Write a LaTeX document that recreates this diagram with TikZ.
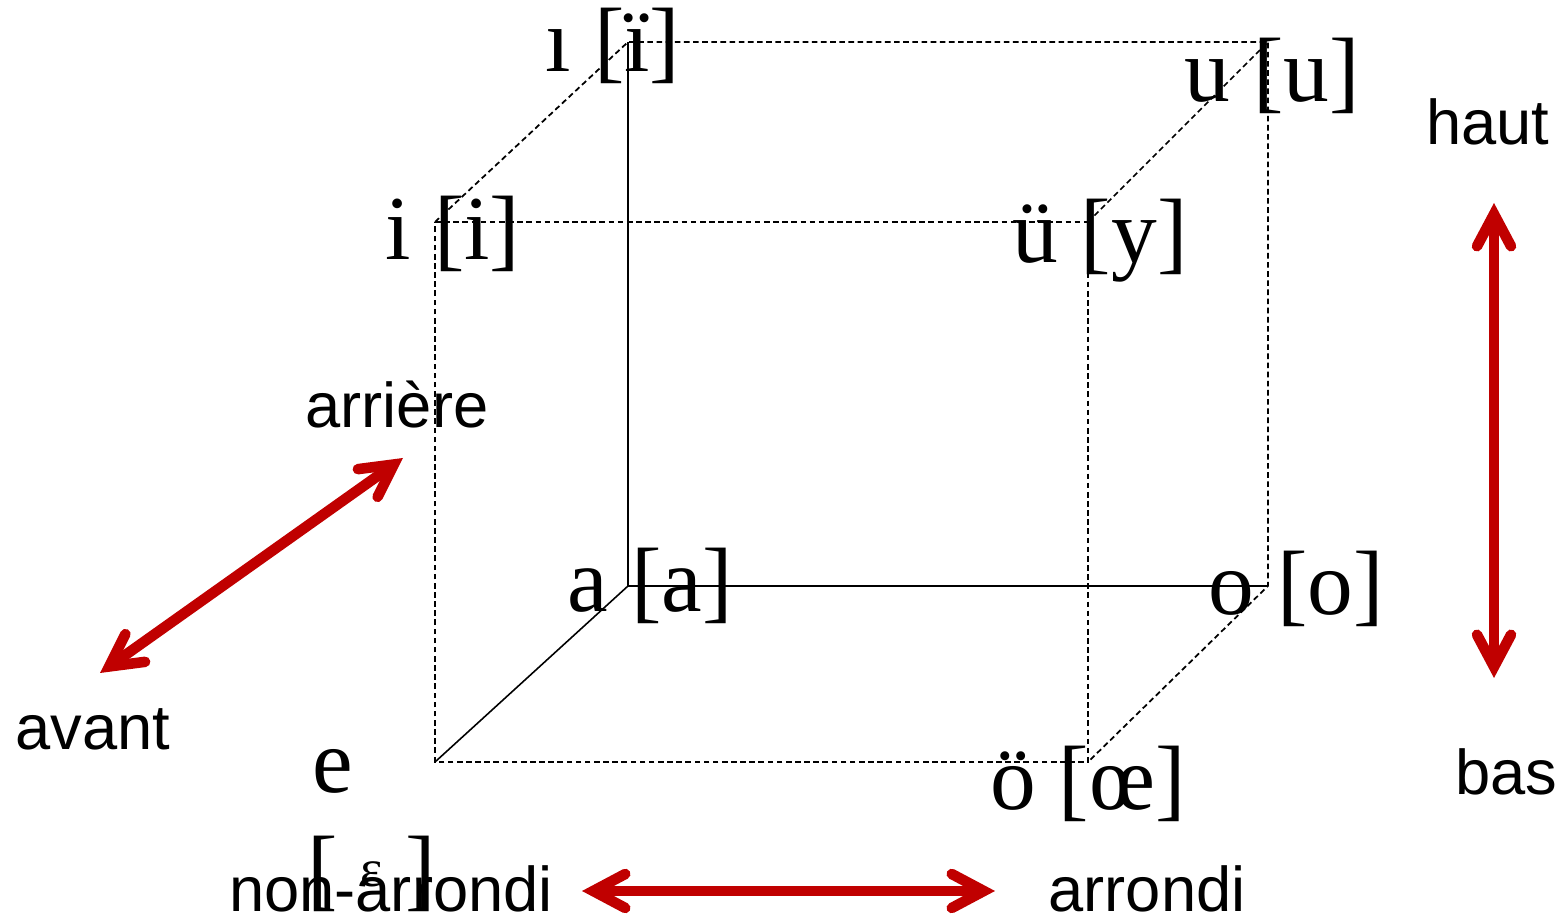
\documentclass[tikz,border=0pt]{standalone}
\usepackage{fontspec}
\setmainfont{Liberation Serif}
\newfontfamily\labelfont{Liberation Sans}
\usetikzlibrary{arrows.meta}
\definecolor{arrowred}{HTML}{C00000}

\tikzset{
    vowel/.style={font=\fontsize{26}{30}\selectfont, anchor=base, inner sep=0pt},
    axislabel/.style={font=\labelfont\fontsize{18}{21}\selectfont, anchor=base, inner sep=0pt},
    hidden/.style={line width=0.5pt, dash pattern=on 1.6pt off 1pt},
    edge/.style={line width=0.45pt},
    barb/.tip={Straight Barb[length=3.2mm, width=3.4mm, line cap=round, line join=miter]},
    axisarrow/.style={arrowred, line width=3pt, barb-barb},
}

\begin{document}
\begin{tikzpicture}
    \useasboundingbox (0,0) rectangle (15.61,9.18);

    % Sommets du cube
    \coordinate (ftl) at (4.35,6.96);
    \coordinate (ftr) at (10.88,6.96);
    \coordinate (fbl) at (4.35,1.56);
    \coordinate (fbr) at (10.88,1.56);
    \coordinate (btl) at (6.28,8.76);
    \coordinate (btr) at (12.68,8.76);
    \coordinate (bbl) at (6.28,3.32);
    \coordinate (bbr) at (12.68,3.32);

    % Arêtes pleines
    \draw[edge] (btl) -- (bbl) -- (bbr);
    \draw[edge] (bbl) -- (fbl);

    % Arêtes cachées
    \draw[hidden] (ftl) -- (ftr) -- (fbr) -- (fbl) -- cycle;
    \draw[hidden] (ftl) -- (btl) -- (btr) -- (bbr) -- (fbr);
    \draw[hidden] (ftr) -- (btr);

    % Voyelles
    \node[vowel] (vi2) at (6.13,8.46) {ı [ï]};
    \node[vowel] (vu) at (12.72,8.16) {u [u]};
    \node[vowel] (vi) at (4.53,6.58) {i [i]};
    \node[vowel] (vy) at (11.00,6.55) {ü [y]};
    \node[vowel] (va) at (6.50,3.06) {a [a]};
    \node[vowel] (vo) at (12.96,3.03) {o [o]};
    \node[vowel] (voe) at (10.88,1.08) {ö [œ]};
    \node[vowel] (ve) at (3.33,1.25) {e};
    \node[vowel] (veps) at (3.72,0.18)
        {[ \raisebox{0.13cm}{\fontsize{15}{15}\selectfont ɛ} ]};

    % Étiquettes des axes
    \node[axislabel] (haut) at (14.88,7.73) {haut};
    \node[axislabel] (bas) at (15.06,1.23) {bas};
    \node[axislabel] (arriere) at (3.97,4.90) {arrière};
    \node[axislabel] (avant) at (0.93,1.68) {avant};
    \node[axislabel] (nonarr) at (3.91,0.06) {non-arrondi};
    \node[axislabel] (arr) at (11.47,0.06) {arrondi};

    % Flèches
    \coordinate (hauttip) at (14.94,7.15);
    \coordinate (bastip) at (14.94,2.40);
    \coordinate (arrieretip) at (4.03,4.60);
    \coordinate (avanttip) at (1.00,2.45);
    \coordinate (nonarrtip) at (5.82,0.27);
    \coordinate (arrtip) at (9.95,0.27);
    \draw[axisarrow] (bastip) -- (hauttip);
    \draw[axisarrow] (avanttip) -- (arrieretip);
    \draw[axisarrow] (nonarrtip) -- (arrtip);
\end{tikzpicture}
\end{document}
